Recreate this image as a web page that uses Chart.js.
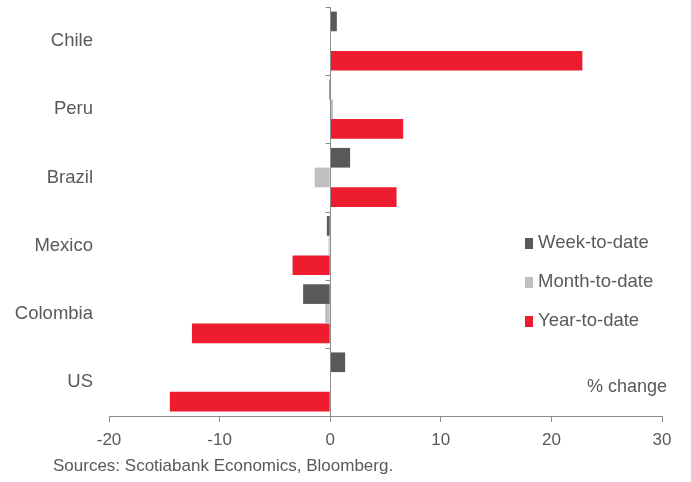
<!DOCTYPE html>
<html>
<head>
<meta charset="utf-8">
<script src="https://cdn.jsdelivr.net/npm/chart.js@4"></script>
<style>
  html, body { margin: 0; padding: 0; background: #fff; }
  #wrap { width: 691px; height: 482px; position: relative; }
</style>
</head>
<body>
<div id="wrap"><canvas id="chart" width="691" height="482"></canvas></div>
<script>
const categories = ["Chile", "Peru", "Brazil", "Mexico", "Colombia", "US"];
const weekToDate = [0.6, -0.1, 1.8, -0.3, -2.45, 1.35];
const monthToDate = [0, 0.25, -1.4, -0.15, -0.45, 0];
const yearToDate = [22.8, 6.6, 6.0, -3.4, -12.5, -14.5];
const seriesNames = ["Week-to-date", "Month-to-date", "Year-to-date"];
const seriesColors = ["#595959", "#bfbfbf", "#ed1c2e"];

const fontFamily = "'Liberation Sans', Arial, sans-serif";
const textColor = "#595959";

// zero line with small ticks + legend + notes
const extras = {
    id: "extras",
    afterDatasetsDraw(chart) {
        const ctx = chart.ctx;
        const x = chart.scales.x;
        const area = chart.chartArea;
        const x0 = Math.round(x.getPixelForValue(0)) + 0.5;
        ctx.save();
        ctx.strokeStyle = "#8c8c8c";
        ctx.lineWidth = 1;
        ctx.beginPath();
        ctx.moveTo(x0, area.top);
        ctx.lineTo(x0, area.bottom);
        const band = (area.bottom - area.top) / categories.length;
        for (let i = 0; i <= categories.length; i++) {
            const yy = Math.round(area.top + i * band) + 0.5;
            ctx.moveTo(x0 - 5, yy);
            ctx.lineTo(x0, yy);
        }
        ctx.stroke();
        ctx.restore();
    },
    afterDraw(chart) {
        const ctx = chart.ctx;
        ctx.save();
        ctx.font = "18.5px " + fontFamily;
        ctx.textBaseline = "middle";
        ctx.textAlign = "left";
        for (let i = 0; i < seriesNames.length; i++) {
            const yy = 243 + i * 39;
            ctx.fillStyle = seriesColors[i];
            ctx.fillRect(525, yy - 5, 8, 11);
            ctx.fillStyle = textColor;
            ctx.fillText(seriesNames[i], 538, yy);
        }
        ctx.font = "18px " + fontFamily;
        ctx.fillText("% change", 587, 387);
        ctx.font = "17px " + fontFamily;
        ctx.fillText("Sources: Scotiabank Economics, Bloomberg.", 53, 466);
        ctx.restore();
    }
};

new Chart(document.getElementById("chart"), {
    type: "bar",
    data: {
        labels: categories,
        datasets: [
            { label: seriesNames[0], data: weekToDate, backgroundColor: seriesColors[0] },
            { label: seriesNames[1], data: monthToDate, backgroundColor: seriesColors[1] },
            { label: seriesNames[2], data: yearToDate, backgroundColor: seriesColors[2] }
        ]
    },
    options: {
        indexAxis: "y",
        responsive: false,
        animation: false,
        layout: { padding: { top: 7, right: 29, bottom: 0, left: 0 } },
        datasets: {
            bar: { barPercentage: 1, categoryPercentage: 0.865 }
        },
        plugins: {
            legend: { display: false },
            tooltip: { enabled: false }
        },
        scales: {
            x: {
                min: -20,
                max: 30,
                ticks: {
                    stepSize: 10,
                    color: textColor,
                    padding: 8,
                    font: { family: fontFamily, size: 17 }
                },
                grid: {
                    drawOnChartArea: false,
                    drawTicks: true,
                    tickLength: 6,
                    color: "#8c8c8c"
                },
                border: { color: "#8c8c8c" },
                afterFit(scale) { scale.height = 66; }
            },
            y: {
                ticks: {
                    color: textColor,
                    padding: 16,
                    font: { family: fontFamily, size: 18.5 }
                },
                grid: { display: false, drawTicks: false },
                border: { display: false },
                afterFit(scale) {
                    scale.width = 109;
                    scale.paddingTop = 0;
                    scale.paddingBottom = 0;
                }
            }
        }
    },
    plugins: [extras]
});
</script>
</body>
</html>
